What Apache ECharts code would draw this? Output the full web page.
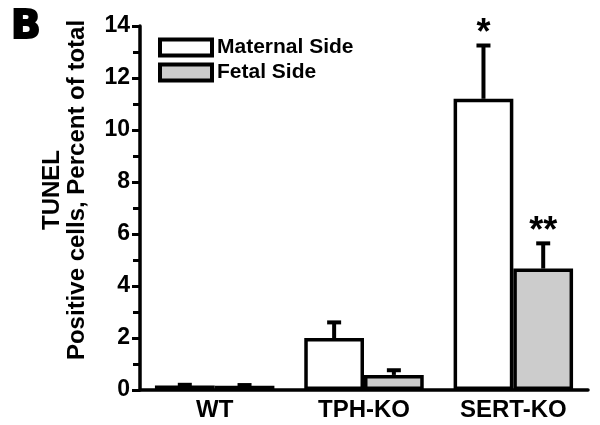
<!DOCTYPE html>
<html>
<head>
<meta charset="utf-8">
<script src="https://cdn.jsdelivr.net/npm/echarts@6/dist/echarts.min.js"></script>
<style>
  html, body { margin: 0; padding: 0; background: #fff; }
  #chart { width: 600px; height: 425px; }
</style>
</head>
<body>
<div id="chart"></div>
<script>
const categories = ["WT", "TPH-KO", "SERT-KO"];
const maternal = [0.17, 2.0, 11.2];
const maternalErr = [0.03, 0.6, 2.05];
const maternalSig = ["", "", "*"];
const fetal = [0.16, 0.58, 4.67];
const fetalErr = [0.03, 0.18, 0.97];
const fetalSig = ["", "", "**"];

const FONT = "'Liberation Sans', Arial, sans-serif";

// error bars (upper only) + significance stars
const errorSeries = (vals, errs, sigs, side) => ({
    type: "custom",
    z: 5,
    silent: true,
    data: vals.map((v, i) => [i, v + errs[i]]),
    renderItem: (params, api) => {
        const i = params.dataIndex;
        const band = api.size([1, 0])[0];
        const off = side * band * 0.2;
        const top = api.coord([i, vals[i] + errs[i]]);
        const base = api.coord([i, vals[i]]);
        const x = top[0] + off;
        const children = [
            { type: "line", shape: { x1: x, y1: base[1], x2: x, y2: top[1] }, style: { stroke: "#000", lineWidth: 4 } },
            { type: "line", shape: { x1: x - 7, y1: top[1], x2: x + 7, y2: top[1] }, style: { stroke: "#000", lineWidth: 4 } }
        ];
        if (sigs[i]) {
            children.push({
                type: "text",
                style: {
                    text: sigs[i], x: x, y: top[1] + 7,
                    align: "center", verticalAlign: "bottom",
                    font: "bold 36px " + FONT, fill: "#000"
                }
            });
        }
        return { type: "group", children };
    }
});

const chart = echarts.init(document.getElementById("chart"));
chart.setOption({
    animation: false,
    title: {
        text: "B", left: 6, top: 3,
        textStyle: {
            fontSize: 39, fontWeight: 900, color: "#000",
            textBorderColor: "#000", textBorderWidth: 2,
            fontFamily: "'DejaVu Sans', Arial, sans-serif"
        }
    },
    legend: {
        orient: "vertical",
        left: 153, top: 32,
        itemWidth: 52, itemHeight: 16, itemGap: 4,
        icon: "rect",
        itemStyle: { borderWidth: 4, borderColor: "#000" },
        textStyle: { fontSize: 21, fontWeight: "bold", color: "#000", fontFamily: FONT },
        data: ["Maternal Side", "Fetal Side"]
    },
    grid: { left: 140, right: 12, top: 26, bottom: 35 },
    xAxis: {
        type: "category",
        data: categories,
        axisLine: { lineStyle: { color: "#000", width: 3.5 } },
        axisTick: { show: false },
        axisLabel: { color: "#000", fontSize: 24, fontWeight: "bold", fontFamily: FONT, margin: 8 }
    },
    yAxis: {
        type: "value",
        min: 0, max: 14, interval: 2,
        name: "TUNEL\nPositive cells, Percent of total",
        nameLocation: "middle",
        nameRotate: 90,
        nameGap: 50,
        nameTextStyle: {
            color: "#000", fontSize: 24, fontWeight: "bold", fontFamily: FONT,
            lineHeight: 25, padding: [0, 0, 0, 36]
        },
        axisLine: { show: true, lineStyle: { color: "#000", width: 3.5 } },
        axisTick: { show: true, inside: false, length: 8, lineStyle: { color: "#000", width: 3 } },
        minorTick: { show: true, splitNumber: 2, length: 7, lineStyle: { color: "#000", width: 3 } },
        splitLine: { show: false },
        axisLabel: { color: "#000", fontSize: 23, fontWeight: "bold", fontFamily: FONT, margin: 10 }
    },
    series: [
        {
            name: "Maternal Side", type: "bar",
            data: maternal,
            barGap: "0%", barCategoryGap: "20%",
            itemStyle: { color: "#ffffff", borderColor: "#000", borderWidth: 3.5 }
        },
        {
            name: "Fetal Side", type: "bar",
            data: fetal,
            barGap: "0%", barCategoryGap: "20%",
            itemStyle: { color: "#cccccc", borderColor: "#000", borderWidth: 3.5 }
        },
        errorSeries(maternal, maternalErr, maternalSig, -1),
        errorSeries(fetal, fetalErr, fetalSig, 1)
    ]
});
</script>
</body>
</html>
